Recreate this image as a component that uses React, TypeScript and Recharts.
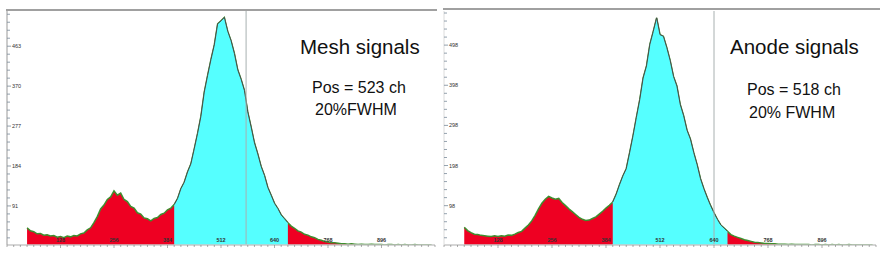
import React from 'react';
import { ComposedChart, Area, XAxis, YAxis, ReferenceLine } from 'recharts';

// histogram bins: first channel and bin width (channels)
const binStart = 48;
const binWidth = 8;

// mesh spectrum, counts per 8-channel bin (rows of 10 bins)
const meshCounts = [
  40, 33, 31, 26, 27, 23, 24, 21, 22, 18,
  20, 17, 21, 19, 22, 21, 26, 28, 35, 40,
  52, 66, 84, 93, 106, 112, 126, 116, 121, 106,
  101, 90, 86, 75, 72, 63, 61, 56, 62, 64,
  71, 74, 82, 86, 94, 108, 131, 146, 170, 189,
  224, 260, 300, 356, 395, 432, 466, 515, 522, 530,
  498, 476, 446, 408, 386, 360, 310, 275, 238, 212,
  183, 162, 134, 116, 97, 85, 70, 61, 52, 44,
  39, 33, 30, 25, 23, 19, 17, 13, 11, 8,
  7, 5, 5, 4, 3, 3, 2, 3, 2, 1,
  2, 1, 1, 2, 1, 1, 1, 0, 1, 1,
  0, 1, 0, 1, 0, 0, 1, 0, 0, 0,
  0, 0,
];

// anode spectrum
const anodeCounts = [
  44, 36, 31, 27, 26, 24, 23, 22, 21, 23,
  21, 23, 22, 25, 24, 27, 31, 34, 42, 50,
  60, 74, 90, 104, 114, 121, 117, 114, 116, 106,
  98, 90, 83, 76, 69, 64, 61, 62, 66, 70,
  77, 84, 92, 99, 107, 126, 150, 172, 190, 230,
  272, 318, 362, 416, 446, 500, 532, 566, 524, 520,
  492, 460, 420, 396, 350, 322, 286, 264, 230, 200,
  165, 140, 118, 98, 80, 64, 50, 42, 34, 26,
  22, 19, 16, 13, 11, 9, 7, 6, 5, 4,
  4, 3, 3, 2, 2, 2, 1, 2, 1, 1,
  1, 1, 1, 0, 1, 1, 0, 1, 0, 1,
  0, 1, 0, 0, 1, 0, 0, 0, 0, 0,
  0, 0,
];

const xTickLabels = [128, 256, 384, 512, 640, 768, 896];
const meshYTicks = [91, 184, 277, 370, 463];
const anodeYTicks = [98, 198, 298, 398, 498];

const roiStart = 400;
const roiEnd = 672;
const meshMarker = 572;
const anodeMarker = 640;

const RED = '#EE0022';
const CYAN = '#55FFFF';

function buildRows(counts: number[]) {
  return counts.map((v, i) => {
    const ch = binStart + i * binWidth;
    const inRoi = ch >= roiStart && ch <= roiEnd;
    return { ch, all: v, roi: inRoi ? v : null };
  });
}

const xMinor = Array.from({ length: 65 }, (_, i) => i * 16);

function yMinor(major: number[], max: number) {
  const step = (major[1] - major[0]) / 5;
  const out: number[] = [];
  for (let v = major[0] - 4 * step; v <= max; v += step) out.push(Math.round(v * 10) / 10);
  return out;
}

const XTick = (props: any) => {
  const { x, y, payload } = props;
  const major = xTickLabels.includes(payload.value);
  return (
    <g>
      <line x1={x} x2={x} y1={y} y2={y + (major ? 3 : 2)} stroke="#777" strokeWidth={0.6} />
      {major && (
        <text x={x} y={y - 3} textAnchor="middle" fontSize={5.5} fontWeight="bold" fill="#333" fontFamily="Liberation Sans">
          {payload.value}
        </text>
      )}
    </g>
  );
};

const makeYTick = (major: number[]) => (props: any) => {
  const { x, y, payload } = props;
  const isMajor = major.some((m) => Math.abs(m - payload.value) < 0.5);
  return (
    <g>
      <line x1={x} x2={x + (isMajor ? 4 : 3)} y1={y} y2={y} stroke="#7a8a99" strokeWidth={0.8} />
      {isMajor && (
        <text x={x + 5} y={y + 2} fontSize={5.5} fill="#333" fontFamily="Liberation Sans">
          {Math.round(payload.value)}
        </text>
      )}
    </g>
  );
};

interface PanelProps {
  counts: number[];
  yMax: number;
  yTicks: number[];
  marker: number;
  width: number;
  margin: { top: number; left: number; right: number; bottom: number };
  axisColor: string;
}

function Panel({ counts, yMax, yTicks, marker, width, margin, axisColor }: PanelProps) {
  const rows = buildRows(counts);
  return (
    <ComposedChart width={width} height={260} data={rows} margin={margin}>
      <XAxis
        type="number"
        dataKey="ch"
        domain={[0, 1024]}
        ticks={xMinor}
        interval={0}
        height={15}
        tickSize={0}
        tickMargin={0}
        tickLine={false}
        axisLine={{ stroke: '#c8c8c8', strokeWidth: 1.5 }}
        tick={<XTick />}
        allowDataOverflow
      />
      <YAxis
        type="number"
        domain={[0, yMax]}
        ticks={yMinor(yTicks, yMax)}
        interval={0}
        width={30}
        mirror
        tickSize={0}
        tickMargin={0}
        tickLine={false}
        axisLine={{ stroke: axisColor }}
        tick={makeYTick(yTicks)}
        allowDataOverflow
      />
      <Area
        type="linear"
        dataKey="all"
        fill={RED}
        fillOpacity={1}
        stroke="#3E8E2E"
        strokeWidth={1.5}
        dot={false}
        activeDot={false}
        isAnimationActive={false}
      />
      <Area
        type="linear"
        dataKey="roi"
        fill={CYAN}
        fillOpacity={1}
        stroke="#4a4a4a"
        strokeWidth={1}
        dot={false}
        activeDot={false}
        isAnimationActive={false}
      />
      <ReferenceLine x={marker} stroke="#a8b0b0" strokeWidth={1} />
    </ComposedChart>
  );
}

const textStyle = { fontFamily: 'Liberation Sans, Arial, sans-serif', fill: '#111' };

export default function App() {
  return (
    <div style={{ position: 'absolute', left: 0, top: 0, width: 882, height: 260, background: '#fff' }}>
      <div style={{ position: 'absolute', left: 0, top: 0 }}>
        <Panel
          counts={meshCounts}
          yMax={545}
          yTicks={meshYTicks}
          marker={meshMarker}
          width={440}
          margin={{ top: 11, left: 7, right: 5, bottom: 0 }}
          axisColor="#999"
        />
      </div>
      <div style={{ position: 'absolute', left: 436, top: 0 }}>
        <Panel
          counts={anodeCounts}
          yMax={583}
          yTicks={anodeYTicks}
          marker={anodeMarker}
          width={446}
          margin={{ top: 11, left: 8, right: 6, bottom: 0 }}
          axisColor="#dcdcdc"
        />
      </div>
      <svg width={882} height={260} style={{ position: 'absolute', left: 0, top: 0, pointerEvents: 'none' }}>
        <line x1={6} x2={437} y1={10} y2={10} stroke="#a0a0a0" strokeWidth={2} />
        <line x1={443} x2={880} y1={9} y2={9} stroke="#a0a0a0" strokeWidth={2} />
        <text x={300} y={54} fontSize={20.5} {...textStyle}>Mesh signals</text>
        <text x={312} y={93} fontSize={16} {...textStyle}>Pos = 523 ch</text>
        <text x={315} y={115} fontSize={16} {...textStyle}>20%FWHM</text>
        <text x={730} y={54} fontSize={20.5} {...textStyle}>Anode signals</text>
        <text x={747} y={95} fontSize={16} {...textStyle}>Pos = 518 ch</text>
        <text x={749} y={118} fontSize={16} {...textStyle}>20% FWHM</text>
      </svg>
    </div>
  );
}
